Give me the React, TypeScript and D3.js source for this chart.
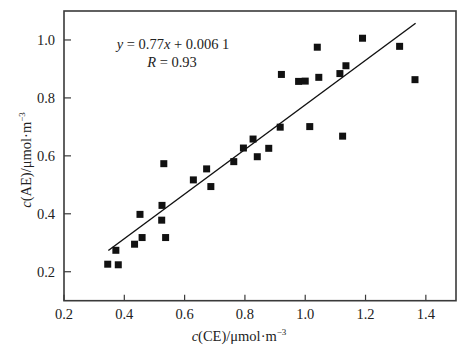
import React from 'react';
import * as d3 from 'd3';

const ceValues = [0.345, 0.372, 0.380, 0.434, 0.452, 0.459, 0.525, 0.524, 0.537, 0.531, 0.629, 0.673, 0.687, 0.763, 0.795, 0.827, 0.841, 0.879, 0.917, 1.015, 0.921, 1.040, 0.978, 1.000, 1.045, 1.115, 1.135, 1.190, 1.313, 1.364, 1.124];
const aeValues = [0.226, 0.274, 0.224, 0.295, 0.398, 0.318, 0.429, 0.378, 0.318, 0.573, 0.517, 0.555, 0.494, 0.580, 0.627, 0.658, 0.597, 0.626, 0.699, 0.701, 0.881, 0.975, 0.857, 0.858, 0.871, 0.884, 0.911, 1.006, 0.978, 0.863, 0.668];
const xTicks = [0.2, 0.4, 0.6, 0.8, 1.0, 1.2, 1.4];
const yTicks = [0.2, 0.4, 0.6, 0.8, 1.0];
const slope = 0.77;
const intercept = 0.0061;
const fitRange = [0.347, 1.366];

export default function App() {
  const W = 473, H = 355;
  const left = 64, right = 456, top = 11, bottom = 300.7;
  const x = d3.scaleLinear().domain([0.2, 1.5]).range([left, right]);
  const y = d3.scaleLinear().domain([0.1, 1.1]).range([bottom, top]);
  const font = '"Liberation Serif", "Times New Roman", serif';
  const ms = 7;
  const line = d3.line<number>().x(d => x(d)).y(d => y(slope * d + intercept));
  const frameColor = '#3a3a3a';
  return (
    <svg width={W} height={H} style={{ position: 'absolute', left: 0, top: 0, background: '#fff' }} fontFamily={font}>
      <rect x={0} y={0} width={W} height={H} fill="#fff" />
      <rect x={left} y={top} width={right - left} height={bottom - top} fill="none" stroke={frameColor} strokeWidth={1.6} />
      {xTicks.map(t => (
        <g key={'x' + t}>
          <line x1={x(t)} x2={x(t)} y1={bottom} y2={bottom - 6} stroke={frameColor} strokeWidth={1.2} />
          <text x={x(t)} y={319} textAnchor="middle" fontSize={14.5} fill="#222">{t.toFixed(1)}</text>
        </g>
      ))}
      {yTicks.map(t => (
        <g key={'y' + t}>
          <line x1={left} x2={left + 7} y1={y(t)} y2={y(t)} stroke={frameColor} strokeWidth={1.2} />
          <text x={55} y={y(t) + 5} textAnchor="end" fontSize={14.5} fill="#222">{t.toFixed(1)}</text>
        </g>
      ))}
      <path d={line(fitRange) || ''} stroke="#111" strokeWidth={1.4} fill="none" />
      {ceValues.map((c, i) => (
        <rect key={i} x={x(c) - ms / 2} y={y(aeValues[i]) - ms / 2} width={ms} height={ms} fill="#111" />
      ))}
      <text x={173} y={49} textAnchor="middle" fontSize={14.5} fill="#222">
        <tspan fontStyle="italic">y</tspan> = 0.77<tspan fontStyle="italic">x</tspan> + 0.006 1
      </text>
      <text x={172} y={67} textAnchor="middle" fontSize={14.5} fill="#222">
        <tspan fontStyle="italic">R</tspan> = 0.93
      </text>
      <text x={239} y={341} textAnchor="middle" fontSize={14.5} fill="#222">
        <tspan fontStyle="italic">c</tspan>(CE)/μmol·m<tspan fontSize={9} dy={-6}>−3</tspan>
      </text>
      <text transform="translate(31,160) rotate(-90)" textAnchor="middle" fontSize={14.5} fill="#222">
        <tspan fontStyle="italic">c</tspan>(AE)/μmol·m<tspan fontSize={9} dy={-6}>−3</tspan>
      </text>
    </svg>
  );
}
